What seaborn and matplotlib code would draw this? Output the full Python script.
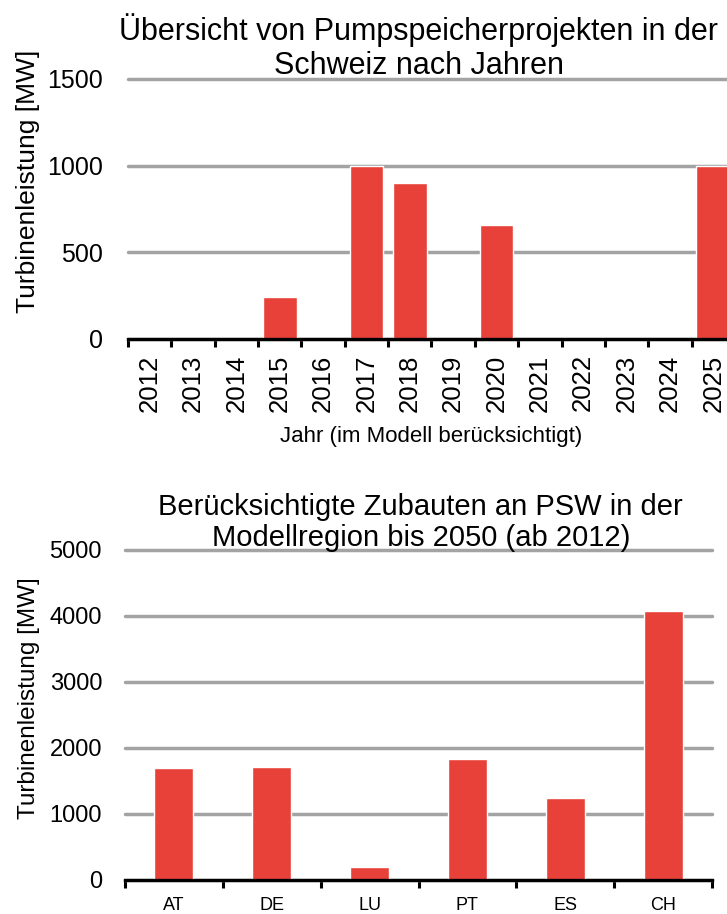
import matplotlib
matplotlib.use("Agg")
import pandas as pd
import seaborn as sns
from matplotlib import pyplot as plt

# data
years = [str(y) for y in range(2012, 2026)]
year_mw = [0, 0, 0, 240, 0, 1000, 900, 0, 655, 0, 0, 0, 0, 1000]

regions = ["AT", "DE", "LU", "PT", "ES", "CH"]
region_mw = [1700, 1710, 200, 1840, 1250, 4080]

red = "#E8413A"
grid_grey = "#A3A3A3"

sns.set_theme(style="white")
plt.rcParams["font.family"] = ["Liberation Sans", "DejaVu Sans"]
for key in ["text.color", "axes.labelcolor", "xtick.color", "ytick.color"]:
    plt.rcParams[key] = "black"

fig = plt.figure(figsize=(7.27, 9.14), dpi=100)
# top chart runs past the right edge of the picture, like the reference
ax1 = fig.add_axes([128 / 727, 1 - 339 / 914, 607 / 727, 260 / 914])
ax2 = fig.add_axes([125 / 727, 1 - 880 / 914, 587 / 727, 330 / 914])

df1 = pd.DataFrame({"Jahr": years, "MW": year_mw})
df2 = pd.DataFrame({"Region": regions, "MW": region_mw})

sns.barplot(data=df1, x="Jahr", y="MW", color=red, saturation=1, width=0.78, ax=ax1, zorder=3)
sns.barplot(data=df2, x="Region", y="MW", color=red, saturation=1, width=0.4, ax=ax2, zorder=3)


def style(ax, ymax, step, nx):
    ax.set_ylim(0, ymax)
    ax.set_xlim(-0.5, nx - 0.5)
    ax.set_yticks(range(0, ymax + 1, step))
    ax.yaxis.grid(True, color=grid_grey, linewidth=2.5)
    for line in ax.get_ygridlines():
        line.set_clip_on(False)
    ax.set_axisbelow(True)
    for s in ["left", "right", "top"]:
        ax.spines[s].set_visible(False)
    ax.spines["bottom"].set_color("black")
    ax.spines["bottom"].set_linewidth(2.4)
    ax.spines["bottom"].set_zorder(4)
    # tick marks sit between the categories
    ax.set_xticks([i - 0.5 for i in range(nx + 1)], minor=True)
    ax.tick_params(axis="x", which="minor", length=6, width=2.2, color="black", direction="out", bottom=True)
    ax.tick_params(axis="x", which="major", length=0)


style(ax1, 1500, 500, len(years))
style(ax2, 5000, 1000, len(regions))

ax1.tick_params(axis="y", length=0, labelsize=18, pad=18)
ax2.tick_params(axis="y", length=0, labelsize=17, pad=16.5)
ax1.tick_params(axis="x", which="major", labelsize=18.5, rotation=90, pad=11)
ax2.tick_params(axis="x", which="major", labelsize=13, pad=12)

ax1.set_xlabel("Jahr (im Modell berücksichtigt)", fontsize=16, labelpad=10)
ax2.set_xlabel("")
ax1.set_ylabel("Turbinenleistung [MW]", fontsize=19)
ax2.set_ylabel("Turbinenleistung [MW]", fontsize=17.5)
ax1.yaxis.set_label_coords(-0.145, 0.606)
ax2.yaxis.set_label_coords(-0.145, 0.55)

ax1.set_title("Übersicht von Pumpspeicherprojekten in der\nSchweiz nach Jahren",
              fontsize=22, x=0.479, pad=3.5, linespacing=1.2)
ax2.set_title("Berücksichtigte Zubauten an PSW in der\nModellregion bis 2050 (ab 2012)",
              fontsize=21, x=0.504, pad=3, linespacing=1.12)

fig.savefig("out.png", dpi=100)
